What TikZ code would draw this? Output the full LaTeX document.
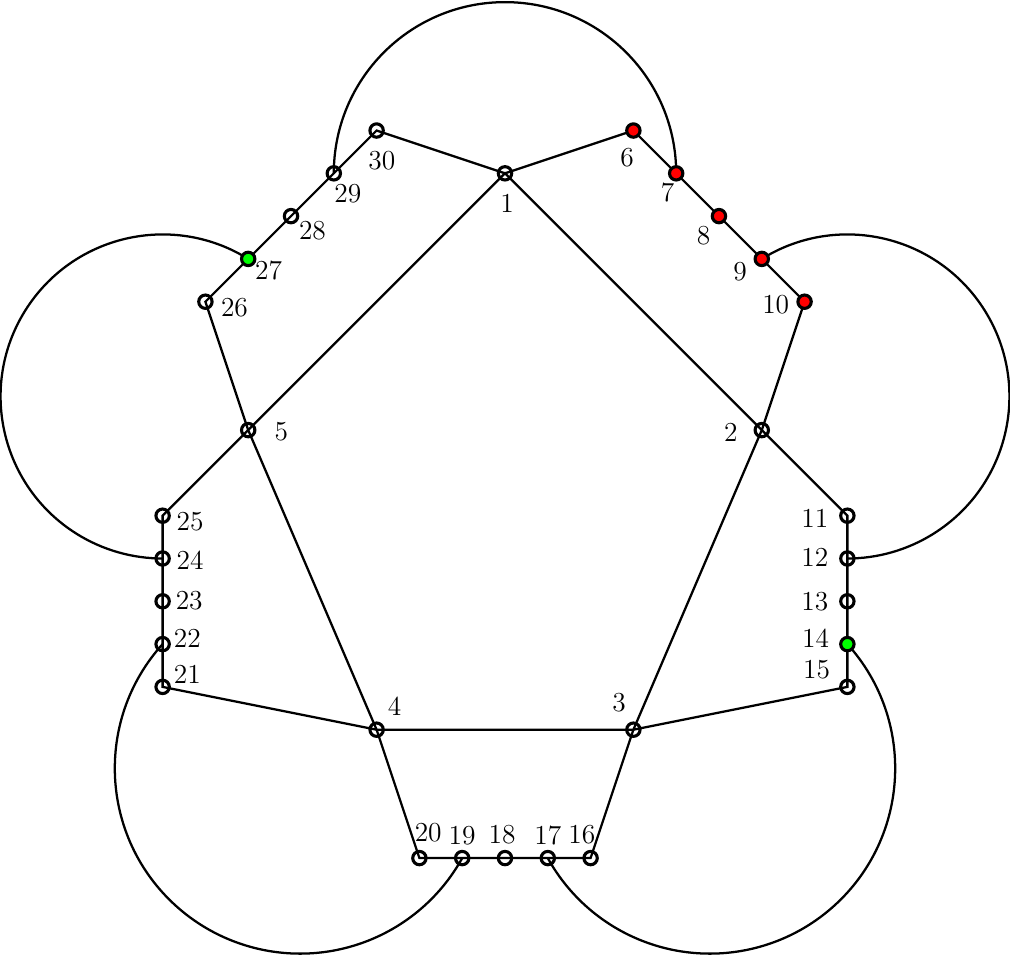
\documentclass[tikz,border=0pt]{standalone}
\usetikzlibrary{backgrounds}

\tikzset{
  vtx/.style={circle, draw, line width=1.3pt, inner sep=0pt, minimum size=5.6pt},
  hot/.style={vtx, fill=red},
  cold/.style={vtx, fill=green},
  lbl/.style={anchor=center, font=\fontsize{11.5pt}{13pt}\selectfont},
  edge/.style={line width=0.95pt}
}

\begin{document}
\begin{tikzpicture}[x=0.63cm, y=0.63cm]
    \useasboundingbox (-11.8,-18.33) rectangle (11.8,4.05);
    \node[vtx, label={[lbl, label distance=9.0pt]-86:1}] (v1) at (0,0) {};
    \node[vtx, label={[lbl, label distance=9.5pt]184:2}] (v2) at (6,-6) {};
    \node[vtx, label={[lbl, label distance=9.2pt]118:3}] (v3) at (3,-13) {};
    \node[vtx, label={[lbl, label distance=8.8pt]52:4}] (v4) at (-3,-13) {};
    \node[vtx, label={[lbl, label distance=10.4pt]-3:5}] (v5) at (-6,-6) {};
    \node[hot, label={[lbl, label distance=8.1pt]-103:6}] (v6) at (3,1) {};
    \node[hot, label={[lbl, label distance=5.4pt]-114:7}] (v7) at (4,0) {};
    \node[hot, label={[lbl, label distance=7.0pt]-128:8}] (v8) at (5,-1) {};
    \node[hot, label={[lbl, label distance=7.2pt]-149:9}] (v9) at (6,-2) {};
    \node[hot, label={[lbl, label distance=8.7pt]-174:10}] (v10) at (7,-3) {};
    \node[vtx, label={[lbl, label distance=10.2pt]184:11}] (v11) at (8,-8) {};
    \node[vtx, label={[lbl, label distance=10.2pt]178:12}] (v12) at (8,-9) {};
    \node[vtx, label={[lbl, label distance=10.2pt]180:13}] (v13) at (8,-10) {};
    \node[cold, label={[lbl, label distance=10.1pt]169:14}] (v14) at (8,-11) {};
    \node[vtx, label={[lbl, label distance=11.4pt]150:15}] (v15) at (8,-12) {};
    \node[vtx, label={[lbl, label distance=7.2pt]110:16}] (v16) at (2,-16) {};
    \node[vtx, label={[lbl, label distance=6.0pt]90:17}] (v17) at (1,-16) {};
    \node[vtx, label={[lbl, label distance=6.3pt]97:18}] (v18) at (0,-16) {};
    \node[vtx, label={[lbl, label distance=6.0pt]90:19}] (v19) at (-1,-16) {};
    \node[vtx, label={[lbl, label distance=7.9pt]71:20}] (v20) at (-2,-16) {};
    \node[vtx, label={[lbl, label distance=8.1pt]26:21}] (v21) at (-8,-12) {};
    \node[vtx, label={[lbl, label distance=7.2pt]13:22}] (v22) at (-8,-11) {};
    \node[vtx, label={[lbl, label distance=7.7pt]2:23}] (v23) at (-8,-10) {};
    \node[vtx, label={[lbl, label distance=8.1pt]-3:24}] (v24) at (-8,-9) {};
    \node[vtx, label={[lbl, label distance=8.3pt]-12:25}] (v25) at (-8,-8) {};
    \node[vtx, label={[lbl, label distance=9.0pt]-12:26}] (v26) at (-7,-3) {};
    \node[cold, label={[lbl, label distance=6.4pt]-30:27}] (v27) at (-6,-2) {};
    \node[vtx, label={[lbl, label distance=7.4pt]-34:28}] (v28) at (-5,-1) {};
    \node[vtx, label={[lbl, label distance=6.8pt]-55:29}] (v29) at (-4,0) {};
    \node[vtx, label={[lbl, label distance=9.2pt]-80:30}] (v30) at (-3,1) {};
    \begin{pgfonlayer}{background}
      % inner pentagon
      \path[draw, edge] (v1.center) -- (v2.center) -- (v3.center) -- (v4.center) -- (v5.center) -- cycle;
      % outer ring
      \path[draw, edge] (v1.center) -- (v6.center) -- (v7.center) -- (v8.center) -- (v9.center) -- (v10.center) -- (v2.center);
      \path[draw, edge] (v2.center) -- (v11.center) -- (v12.center) -- (v13.center) -- (v14.center) -- (v15.center) -- (v3.center);
      \path[draw, edge] (v3.center) -- (v16.center) -- (v17.center) -- (v18.center) -- (v19.center) -- (v20.center) -- (v4.center);
      \path[draw, edge] (v4.center) -- (v21.center) -- (v22.center) -- (v23.center) -- (v24.center) -- (v25.center) -- (v5.center);
      \path[draw, edge] (v5.center) -- (v26.center) -- (v27.center) -- (v28.center) -- (v29.center) -- (v30.center) -- (v1.center);
      % loops
      \path[draw, edge] (v7.center) arc[start angle=0, end angle=180, radius=4];
      \path[draw, edge] (v9.center) arc[start angle=121.9, end angle=-90, radius=3.786];
      \path[draw, edge] (v14.center) arc[start angle=42.1, end angle=-151, radius=4.33];
      \path[draw, edge] (v22.center) arc[start angle=137.9, end angle=331, radius=4.33];
      \path[draw, edge] (v27.center) arc[start angle=58.1, end angle=270, radius=3.786];
    \end{pgfonlayer}
  \end{tikzpicture}
\end{document}
